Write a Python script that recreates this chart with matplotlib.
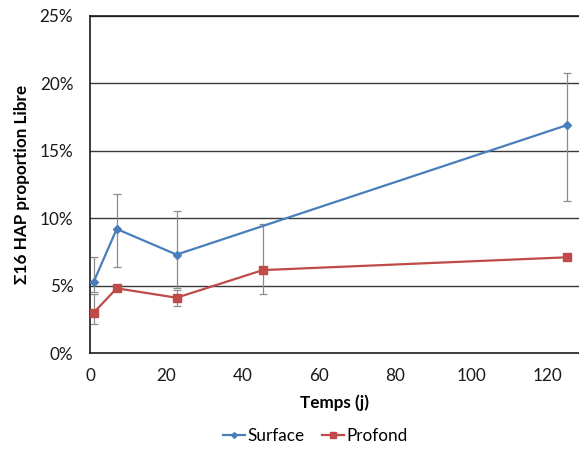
import matplotlib
matplotlib.use("Agg")
import matplotlib.pyplot as plt
from matplotlib.ticker import FuncFormatter

plt.rcParams['font.family'] = ['Lato', 'DejaVu Sans']

# Days of sampling
surface_days = [1, 7, 22.7, 125]
surface_vals = [5.3, 9.2, 7.3, 16.9]
surface_err_low = [0.8, 2.8, 2.45, 5.65]
surface_err_high = [1.8, 2.6, 3.2, 3.9]

profond_days = [1, 7, 22.7, 45.3, 125]
profond_vals = [3.0, 4.8, 4.1, 6.15, 7.1]
profond_err_low = [0.85, 0.0, 0.6, 1.8, 0.0]
profond_err_high = [1.35, 0.0, 0.6, 3.45, 0.0]

x_ticks = [0, 20, 40, 60, 80, 100, 120]
y_ticks = [0, 5, 10, 15, 20, 25]

blue = '#4A7EBB'
red = '#BE4B48'
err_col = '#8C8C8C'

fig = plt.figure(figsize=(5.79, 4.49), dpi=100)
ax = fig.add_axes([90 / 579, 96 / 449, 1 - 90 / 579, 337 / 449])

for yv in y_ticks[1:]:
    ax.axhline(yv, color='#3a3a3a', lw=1.0, zorder=1)

ax.errorbar(surface_days, surface_vals, yerr=[surface_err_low, surface_err_high],
            fmt='none', ecolor=err_col, elinewidth=0.9, capsize=3, capthick=0.9, zorder=2)
ax.errorbar(profond_days, profond_vals, yerr=[profond_err_low, profond_err_high],
            fmt='none', ecolor=err_col, elinewidth=0.9, capsize=3, capthick=0.9, zorder=2)

ax.plot(surface_days, surface_vals, color=blue, lw=1.6, marker='D', ms=4.2,
        label='Surface', zorder=3)
ax.plot(profond_days, profond_vals, color=red, lw=1.6, marker='s', ms=5.2,
        label='Profond', zorder=3)

ax.set_xlim(0, 128.2)
ax.set_ylim(0, 25)
ax.set_xticks(x_ticks)
ax.set_yticks(y_ticks)
ax.yaxis.set_major_formatter(FuncFormatter(lambda v, p: f'{v:.0f}%'))
ax.tick_params(axis='y', length=0, labelsize=12.3, colors='#1a1a1a', pad=12)
ax.tick_params(axis='x', length=0, labelsize=12.3, colors='#1a1a1a', pad=11)

for side in ['left', 'bottom', 'top']:
    ax.spines[side].set_color('#1a1a1a')
    ax.spines[side].set_linewidth(1.2)
ax.spines['right'].set_visible(False)

ax.set_xlabel('Temps (j)', fontsize=12.3, fontweight='bold', labelpad=7)
ax.set_ylabel('Σ16 HAP proportion Libre', fontsize=12.3, fontweight='bold', labelpad=7)

leg = fig.legend(loc='center', bbox_to_anchor=(0.545, 0.028), ncol=2, frameon=False,
                 fontsize=12.3, handlelength=1.3, handletextpad=0.15, columnspacing=1.0,
                 markerscale=0.7)

fig.savefig('out.png', dpi=100)
